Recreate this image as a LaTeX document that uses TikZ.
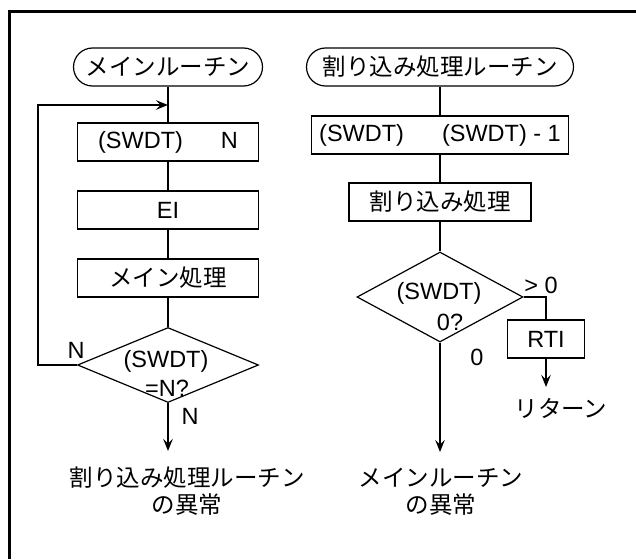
\documentclass[tikz,border=0pt]{standalone}
\usepackage{fontspec}
\setmainfont{Liberation Sans}
\newfontfamily\jp{Noto Sans CJK JP}
\usetikzlibrary{shapes.geometric, arrows.meta}

\begin{document}
\begin{tikzpicture}[x=1pt, y=-1pt, font=\fontsize{23.5}{27}\selectfont, >={Stealth[length=12pt, width=9.5pt, inset=4.5pt]}]
\tikzstyle{jp}=[font=\fontsize{23.5}{27}\selectfont\jp]
\tikzstyle{term}=[draw, line width=1.2pt, rounded corners=19pt, minimum height=38pt, inner sep=0pt, jp]
\tikzstyle{proc}=[draw, line width=1.2pt, minimum height=38pt, inner sep=0pt]
\tikzstyle{dec}=[draw, line width=1.2pt, diamond, inner sep=0pt]
\tikzstyle{link}=[line width=1.2pt]
\tikzstyle{flow}=[line width=1.8pt, ->]
\useasboundingbox (0,0) rectangle (636,559);
\draw[line width=3pt] (9,559) -- (9,12) -- (636,12);
\node[term, minimum width=189pt] (start1) at (168,67) {メインルーチン};
\node[proc, minimum width=181pt] (set1) at (168,142) {(SWDT)\hspace{38pt}N};
\node[proc, minimum width=181pt] (ei) at (168,210) {EI};
\node[proc, minimum width=181pt, jp] (work1) at (168,278) {メイン処理};
\node[dec, minimum width=181pt, minimum height=75pt] (chk1) at (168,365) {};
\node (chk1a) at (166,361) {(SWDT)}; \node (chk1b) at (167,388) {=N?};
\coordinate (loop) at (168,105); \coordinate (loopcorner) at (38,105); \coordinate (end1) at (168,451);
\draw[link] (start1) -- (set1); \draw[link] (set1) -- (ei); \draw[link] (ei) -- (work1); \draw[link] (work1) -- (chk1);
\draw[flow] (chk1.west) -| (loopcorner) -- (loop);
\draw[flow] (chk1.south) -- (end1);
\node (n1) at (76,350) {N}; \node (n2) at (190,416) {N};
\node[jp, align=center] (err1) at (187,491) {割り込み処理ルーチン\\の異常};
\node[term, minimum width=267pt] (start2) at (440,67) {割り込み処理ルーチン};
\node[proc, minimum width=257pt] (dec2) at (440,135) {(SWDT)\hspace{38pt}(SWDT) - 1};
\node[proc, minimum width=182pt, jp] (work2) at (440,202) {割り込み処理};
\node[dec, minimum width=166pt, minimum height=90pt] (chk2) at (440,297) {};
\node (chk2a) at (439,293) {(SWDT)}; \node (chk2b) at (450,322) {0?};
\node[proc, minimum width=77pt] (rti) at (546,339) {RTI};
\coordinate (ret) at (546,387); \coordinate (end2) at (440,452);
\draw[link] (start2) -- (dec2); \draw[link] (dec2) -- (work2); \draw[link] (work2) -- (chk2);
\draw[link] (chk2.east) -| (rti.north);
\draw[flow] (rti.south) -- (ret);
\draw[flow] (chk2.south) -- (end2);
\node (gt) at (541,285) {> 0}; \node (zero) at (477,357) {0};
\node[jp] (rettxt) at (561,408) {リターン};
\node[jp, align=center] (err2) at (441,492) {メインルーチン\\の異常};
\end{tikzpicture}
\end{document}
